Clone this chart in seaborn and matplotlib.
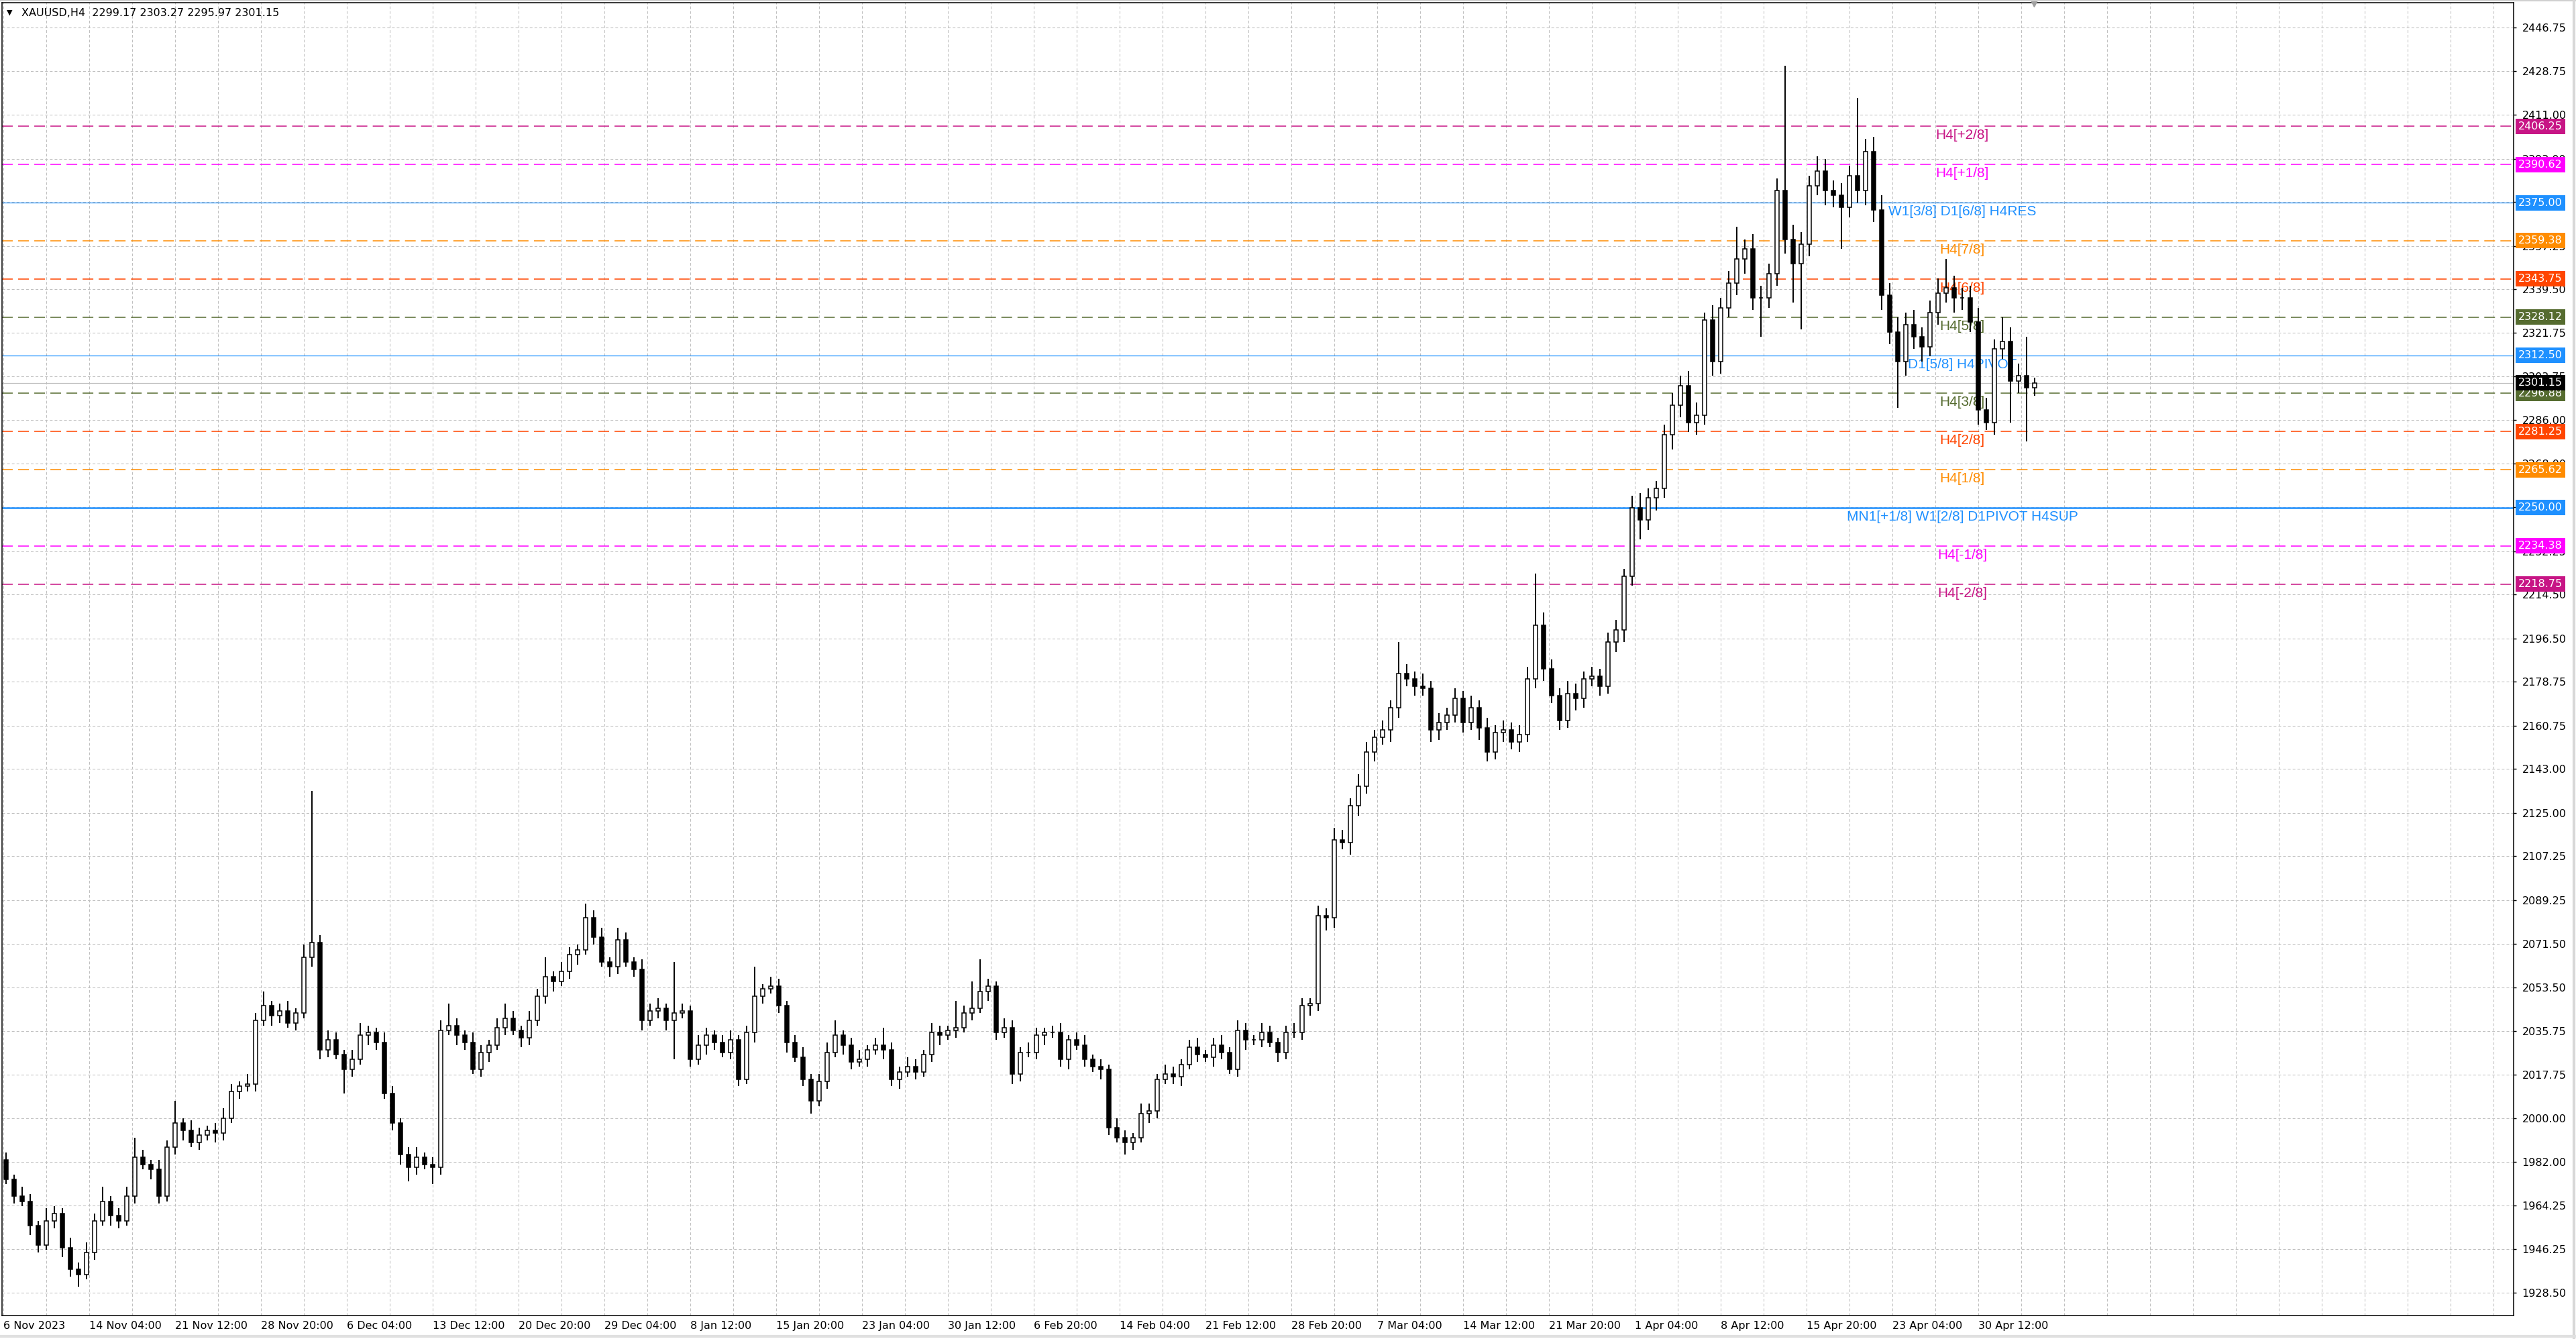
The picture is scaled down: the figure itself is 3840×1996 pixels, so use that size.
import numpy as np
import pandas as pd
import matplotlib
matplotlib.use('Agg')
import matplotlib.pyplot as plt
import seaborn as sns

# XAUUSD H4; each candle here groups three H4 bars
# (first bar 6 Nov 2023 20:00, last bar 3 May 2024 20:00)
first_open = 1983
closes = [
    1975, 1968, 1966, 1956, 1948, 1958, 1961, 1947, 1938, 1936,
    1945, 1958, 1966, 1960, 1958, 1968, 1984, 1981, 1979, 1968,
    1988, 1998, 1995, 1990, 1993, 1995, 1994, 2000, 2011, 2013,
    2014, 2040, 2046, 2042, 2044, 2039, 2043, 2066, 2072, 2028,
    2032, 2026, 2020, 2024, 2034, 2035, 2031, 2010, 1998, 1985,
    1980, 1984, 1981, 1980, 2036, 2038, 2034, 2031, 2020, 2027,
    2030, 2037, 2041, 2036, 2033, 2040, 2050, 2058, 2056, 2060,
    2067, 2069, 2082, 2074, 2064, 2062, 2073, 2064, 2061, 2040,
    2044, 2045, 2040, 2043, 2044, 2024, 2030, 2034, 2031, 2027,
    2032, 2016, 2035, 2050, 2053, 2054, 2046, 2031, 2025, 2016,
    2007, 2015, 2027, 2034, 2030, 2023, 2024, 2028, 2030, 2028,
    2016, 2019, 2021, 2019, 2026, 2035, 2034, 2036, 2037, 2043,
    2045, 2052, 2054, 2035, 2037, 2018, 2027, 2027, 2034, 2035,
    2035, 2024, 2032, 2030, 2024, 2021, 2020, 1996, 1992, 1990,
    1992, 2002, 2003, 2016, 2018, 2017, 2022, 2029, 2026, 2025,
    2030, 2027, 2020, 2036, 2032, 2032, 2035, 2031, 2027, 2035,
    2035, 2046, 2047, 2083, 2082, 2114, 2113, 2128, 2136, 2150,
    2156, 2159, 2168, 2182, 2180, 2177, 2176, 2159, 2162, 2165,
    2172, 2162, 2168, 2160, 2150, 2158, 2159, 2154, 2157, 2180,
    2202, 2184, 2173, 2163, 2174, 2172, 2180, 2181, 2177, 2195,
    2200, 2222, 2250, 2245, 2254, 2258, 2280, 2292, 2300, 2285,
    2288, 2327, 2310, 2332, 2342, 2352, 2356, 2336, 2336, 2346,
    2380, 2360, 2350, 2358, 2382, 2388, 2380, 2378, 2373, 2386,
    2380, 2396, 2372, 2337, 2322, 2310, 2325, 2320, 2316, 2330,
    2338, 2340, 2336, 2336, 2326, 2290, 2285, 2315, 2318, 2302,
    2304, 2299.17, 2301.15,
]
# upper / lower wick length beyond the body, in dollars
wick_up = [
    3, 2, 4, 3, 2, 5, 3, 2, 4, 3,
    4, 3, 6, 2, 3, 4, 8, 3, 2, 4,
    3, 9, 2, 4, 3, 2, 3, 4, 3, 2,
    4, 3, 6, 2, 3, 4, 2, 5, 62, 3,
    4, 3, 2, 4, 5, 3, 2, 4, 3, 2,
    3, 4, 2, 3, 4, 9, 3, 2, 4, 3,
    2, 4, 6, 3, 2, 4, 3, 8, 2, 4,
    3, 2, 6, 3, 4, 2, 5, 3, 2, 4,
    3, 4, 2, 21, 3, 2, 4, 3, 2, 3,
    4, 2, 3, 12, 2, 4, 3, 2, 3, 4,
    2, 3, 4, 6, 2, 3, 4, 2, 3, 7,
    3, 2, 4, 3, 2, 4, 3, 2, 11, 3,
    11, 13, 3, 2, 4, 3, 2, 4, 3, 2,
    3, 4, 2, 3, 4, 2, 3, 2, 4, 3,
    2, 4, 3, 2, 4, 3, 2, 3, 4, 2,
    3, 4, 2, 4, 3, 2, 4, 3, 2, 3,
    4, 3, 2, 4, 3, 5, 4, 3, 5, 4,
    3, 4, 3, 13, 4, 3, 5, 3, 4, 3,
    4, 3, 5, 3, 4, 3, 4, 3, 4, 5,
    21, 5, 4, 3, 5, 4, 3, 4, 3, 4,
    4, 3, 5, 6, 4, 3, 4, 5, 4, 6,
    5, 3, 6, 4, 5, 13, 4, 6, 5, 4,
    5, 51, 6, 5, 4, 6, 5, 4, 5, 4,
    32, 5, 6, 6, 5, 6, 5, 6, 4, 5,
    6, 12, 5, 4, 5, 6, 5, 4, 10, 6,
    5, 16, 2.12,
]
wick_dn = [
    2, 3, 2, 4, 3, 2, 3, 4, 3, 5,
    2, 3, 2, 4, 3, 2, 3, 2, 4, 3,
    2, 3, 4, 2, 3, 2, 4, 3, 2, 3,
    2, 3, 2, 4, 3, 2, 3, 2, 4, 4,
    3, 2, 10, 3, 2, 4, 3, 2, 3, 4,
    6, 3, 2, 7, 3, 2, 4, 3, 2, 3,
    4, 2, 3, 2, 4, 3, 2, 3, 4, 2,
    3, 4, 2, 3, 2, 4, 3, 2, 3, 4,
    2, 3, 4, 16, 2, 3, 2, 4, 3, 2,
    3, 3, 2, 4, 3, 2, 3, 4, 2, 3,
    5, 2, 3, 2, 4, 3, 2, 3, 2, 4,
    3, 4, 2, 3, 2, 3, 4, 2, 3, 2,
    3, 2, 4, 3, 2, 4, 3, 2, 3, 4,
    2, 3, 4, 2, 3, 2, 4, 3, 2, 5,
    3, 2, 4, 3, 2, 3, 4, 2, 3, 2,
    4, 3, 2, 3, 4, 2, 3, 2, 4, 3,
    2, 3, 4, 3, 5, 4, 3, 5, 4, 3,
    4, 3, 5, 4, 3, 4, 3, 5, 4, 3,
    3, 4, 3, 5, 4, 3, 4, 3, 4, 3,
    4, 5, 3, 4, 3, 5, 4, 3, 4, 3,
    4, 5, 4, 8, 4, 5, 4, 6, 5, 4,
    5, 4, 6, 5, 4, 5, 6, 5, 16, 4,
    5, 6, 16, 27, 5, 4, 6, 5, 17, 4,
    5, 6, 5, 6, 5, 19, 6, 5, 6, 4,
    5, 4, 6, 5, 4, 6, 3, 5, 4, 17,
    5, 22, 3.2,
]
bars_per_candle = 3

price_ticks = [1928.50, 1946.25, 1964.25, 1982.00, 2000.00, 2017.75, 2035.75,
               2053.50, 2071.50, 2089.25, 2107.25, 2125.00, 2143.00, 2160.75,
               2178.75, 2196.50, 2214.50, 2232.25, 2250.25, 2268.00, 2286.00,
               2303.75, 2321.75, 2339.50, 2357.25, 2375.25, 2393.00, 2411.00,
               2428.75, 2446.75]

time_labels = ['6 Nov 2023', '14 Nov 04:00', '21 Nov 12:00', '28 Nov 20:00',
               '6 Dec 04:00', '13 Dec 12:00', '20 Dec 20:00', '29 Dec 04:00',
               '8 Jan 12:00', '15 Jan 20:00', '23 Jan 04:00', '30 Jan 12:00',
               '6 Feb 20:00', '14 Feb 04:00', '21 Feb 12:00', '28 Feb 20:00',
               '7 Mar 04:00', '14 Mar 12:00', '21 Mar 20:00', '1 Apr 04:00',
               '8 Apr 12:00', '15 Apr 20:00', '23 Apr 04:00', '30 Apr 12:00']
label_step = 32  # H4 bars between time labels

# Murrey math levels
level_prices = [2406.25, 2390.62, 2375.00, 2359.38, 2343.75, 2328.12, 2312.50,
                2296.88, 2281.25, 2265.62, 2250.00, 2234.38, 2218.75]
level_names = ['H4[+2/8]', 'H4[+1/8]', 'W1[3/8] D1[6/8] H4RES', 'H4[7/8]',
               'H4[6/8]', 'H4[5/8]', 'D1[5/8] H4PIVOT', 'H4[3/8]', 'H4[2/8]',
               'H4[1/8]', 'MN1[+1/8] W1[2/8] D1PIVOT H4SUP', 'H4[-1/8]', 'H4[-2/8]']
level_colors = ['#C71585', '#FF00FF', '#1E90FF', '#FF8C00', '#FF4500', '#556B2F',
                '#1E90FF', '#556B2F', '#FF4500', '#FF8C00', '#1E90FF', '#FF00FF',
                '#C71585']
level_solid = [False, False, True, False, False, False, True,
               False, False, False, True, False, False]
level_width = [1.1, 1.1, 0.9, 1.1, 1.1, 1.1, 0.9, 1.1, 1.1, 1.1, 1.8, 1.1, 1.1]

# build candle table
df = pd.DataFrame({'close': closes, 'up': wick_up, 'dn': wick_dn})
df['open'] = [first_open] + closes[:-1]
df['top'] = df[['open', 'close']].max(axis=1)
df['bot'] = df[['open', 'close']].min(axis=1)
df['high'] = df['top'] + df['up']
df['low'] = df['bot'] - df['dn']
df['x'] = np.arange(len(df)) * bars_per_candle + 1
df['bull'] = df['close'] >= df['open']

sns.set_theme(style='white')
plt.rcParams['font.family'] = ['DejaVu Sans']
plt.rcParams['lines.scale_dashes'] = False

W, H = 3840, 1996
fig = plt.figure(figsize=(W / 100, H / 100), dpi=100)
fig.patch.set_facecolor('white')
ax = fig.add_axes([3 / W, 35 / H, 3744 / W, 1957 / H])
ax.set_facecolor('white')

ax.set_xlim(-0.5, 935.5)
ax.set_ylim(1919.16, 2456.9)

# grid
major_x = np.arange(len(time_labels)) * label_step
minor_x = [v for v in np.arange(0, 936, 16) if v % label_step != 0 or v > major_x[-1]]
ax.set_xticks(major_x)
ax.set_xticklabels(time_labels)
ax.set_xticks(minor_x, minor=True)
ax.set_yticks(price_ticks)
ax.set_yticklabels([f'{v:.2f}' for v in price_ticks])
ax.grid(True, which='both', color='#C0C0C0', linestyle=(0, (2.9, 2.2)),
        linewidth=0.75, zorder=0)
ax.set_axisbelow(True)

ax.yaxis.tick_right()
ax.tick_params(axis='y', which='major', direction='out', length=3, width=1,
               color='black', labelsize=11.5, pad=6, labelcolor='black')
ax.tick_params(axis='x', which='major', direction='out', length=3, width=1,
               color='black', labelsize=11.5, pad=3, labelcolor='black')
ax.tick_params(axis='x', which='minor', length=0)
for lab in ax.get_xticklabels():
    lab.set_ha('left')
for sp in ax.spines.values():
    sp.set_color('black')
    sp.set_linewidth(1.1)

# level lines and their names
label_bar = 730
for p, name, c, solid, lw in zip(level_prices, level_names, level_colors,
                                 level_solid, level_width):
    ls = '-' if solid else (0, (11.5, 5.8))
    ax.axhline(p, color=c, linewidth=lw, linestyle=ls, zorder=2)
    ax.annotate(name, xy=(label_bar, p), xytext=(0, -4), textcoords='offset pixels',
                ha='center', va='top', color=c, fontsize=15,
                family='Liberation Sans', zorder=2.5)

# current price line
last_close = df['close'].iloc[-1]
ax.axhline(last_close, color='#C0C0C0', linewidth=0.9, zorder=2)

# candles: wicks, then bodies
ax.vlines(df['x'], df['low'], df['high'], color='black', linewidth=1.4, zorder=3)
ax.bar(df['x'], df['top'] - df['bot'], bottom=df['bot'], width=1.6,
       color=np.where(df['bull'], 'white', 'black'), edgecolor='black',
       linewidth=1.1, zorder=4)

# price boxes on the right scale
box_prices = level_prices + [last_close]
box_colors = level_colors + ['#000000']
for p, c in zip(box_prices, box_colors):
    ax.annotate(f'{p:.2f}', xy=(1, p), xycoords=('axes fraction', 'data'),
                xytext=(7, 0), textcoords='offset pixels', ha='left', va='center',
                color='white', fontsize=11.5, zorder=10, annotation_clip=False,
                bbox=dict(boxstyle='square,pad=0.25', fc=c, ec='none'))

# chart shift marker
ax.plot([756.75], [2456.9], marker='v', color='#A0A0A0', markersize=9,
        clip_on=False, zorder=10)

# header
o, h, l, c = df['open'].iloc[-1], df['high'].iloc[-1], df['low'].iloc[-1], last_close
fig.text(14 / W, 1 - 19 / H, '\u25BC', fontsize=8, va='center', ha='center', color='black')
fig.text(32 / W, 1 - 19 / H, f'XAUUSD,H4  {o:.2f} {h:.2f} {l:.2f} {c:.2f}',
         fontsize=11.5, va='center', ha='left', color='black')

# window edges
fig.add_artist(plt.Line2D([0, 1], [1 - 1 / H, 1 - 1 / H], color='#D0D0D0', lw=1.5))
fig.add_artist(plt.Line2D([1 - 3 / W, 1 - 3 / W], [0, 1], color='#D8D8D8', lw=3))
fig.add_artist(plt.Line2D([0, 1], [4 / H, 4 / H], color='#E0E0E0', lw=3))

fig.savefig('out.png', dpi=100, facecolor='white')
